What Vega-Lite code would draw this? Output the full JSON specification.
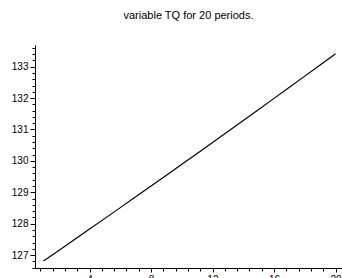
{
  "$schema": "https://vega.github.io/schema/vega-lite/v6.json",
  "autosize": "none",
  "padding": {"left": 35, "top": 45, "right": 0, "bottom": 10},
  "width": 307,
  "height": 223,
  "background": "white",
  "title": {
    "text": "variable TQ for 20 periods.",
    "anchor": "middle",
    "font": "Liberation Sans",
    "fontSize": 11,
    "fontWeight": "normal",
    "color": "#000000",
    "offset": 22
  },
  "config": {
    "view": {"stroke": null},
    "axis": {
      "grid": false,
      "domainColor": "#000000",
      "domainWidth": 1,
      "tickColor": "#000000",
      "tickWidth": 1,
      "labelColor": "#000000",
      "labelFont": "Liberation Sans",
      "labelFontSize": 10,
      "labelOverlap": false,
      "labelFlush": false,
      "title": null
    }
  },
  "data": {
    "values": [
      {"period": 1, "TQ": 126.81},
      {"period": 2, "TQ": 127.148},
      {"period": 3, "TQ": 127.488},
      {"period": 4, "TQ": 127.828},
      {"period": 5, "TQ": 128.17},
      {"period": 6, "TQ": 128.512},
      {"period": 7, "TQ": 128.855},
      {"period": 8, "TQ": 129.2},
      {"period": 9, "TQ": 129.545},
      {"period": 10, "TQ": 129.892},
      {"period": 11, "TQ": 130.239},
      {"period": 12, "TQ": 130.587},
      {"period": 13, "TQ": 130.937},
      {"period": 14, "TQ": 131.287},
      {"period": 15, "TQ": 131.639},
      {"period": 16, "TQ": 131.991},
      {"period": 17, "TQ": 132.344},
      {"period": 18, "TQ": 132.699},
      {"period": 19, "TQ": 133.054},
      {"period": 20, "TQ": 133.41}
    ]
  },
  "mark": {"type": "line", "color": "#000000", "strokeWidth": 1.2, "clip": true},
  "encoding": {
    "x": {
      "field": "period",
      "type": "quantitative",
      "scale": {"domain": [0.45, 20.42], "nice": false, "zero": false},
      "axis": {
        "values": [0.8, 1.6, 2.4, 3.2, 4, 4.8, 5.6, 6.4, 7.2, 8, 8.8, 9.6, 10.4, 11.2, 12, 12.8, 13.6, 14.4, 15.2, 16, 16.8, 17.6, 18.4, 19.2, 20],
        "labelExpr": "datum.value % 4 === 0 ? format(datum.value, 'd') : ''",
        "tickSize": {"condition": {"test": "datum.value % 4 === 0", "value": 4}, "value": 3},
        "labelPadding": 2
      }
    },
    "y": {
      "field": "TQ",
      "type": "quantitative",
      "scale": {"domain": [126.59, 133.69], "nice": false, "zero": false},
      "axis": {
        "values": [126.6, 126.8, 127, 127.2, 127.4, 127.6, 127.8, 128, 128.2, 128.4, 128.6, 128.8, 129, 129.2, 129.4, 129.6, 129.8, 130, 130.2, 130.4, 130.6, 130.8, 131, 131.2, 131.4, 131.6, 131.8, 132, 132.2, 132.4, 132.6, 132.8, 133, 133.2, 133.4, 133.6],
        "labelExpr": "abs(datum.value - round(datum.value)) < 0.001 ? format(datum.value, 'd') : ''",
        "tickSize": {"condition": {"test": "abs(datum.value - round(datum.value)) < 0.001", "value": 5}, "value": 3},
        "labelPadding": 2
      }
    }
  }
}
